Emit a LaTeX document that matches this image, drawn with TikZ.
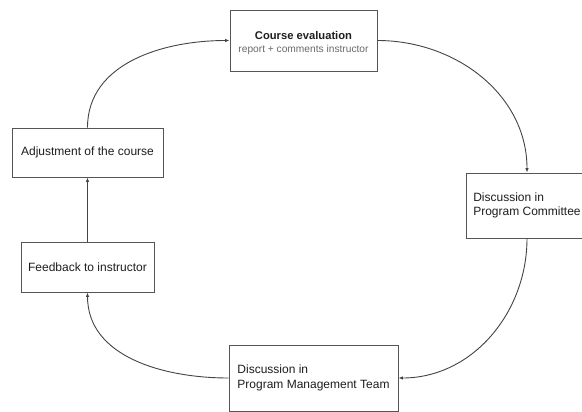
\documentclass[tikz,border=0pt]{standalone}
\usepackage{fontspec}
\setmainfont{Liberation Sans}
\usetikzlibrary{arrows.meta}
\definecolor{boxline}{HTML}{555555}
\definecolor{conn}{HTML}{444444}
\definecolor{txt}{HTML}{1E1E1E}
\definecolor{subtxt}{HTML}{6A6A6A}
\tikzset{
  box/.style={draw=boxline, line width=0.9pt, rectangle, inner sep=0pt, text=txt,
    font=\fontsize{12}{14.5}\selectfont, align=left},
  conline/.style={draw=conn, line width=0.9pt, -{Latex[length=4.5pt,width=3.5pt]}}
}
\begin{document}
\begin{tikzpicture}[x=1pt,y=-1pt]
\clip (0,0) rectangle (582,412);
\fill[white] (0,0) rectangle (582,412);
\node[box, minimum width=147pt, minimum height=61pt] (ce) at (303.5,40.5) {};
\node[text=txt, font=\bfseries\fontsize{11.2}{13}\selectfont, anchor=base] at (303.5,40) {Course evaluation};
\node[text=subtxt, font=\fontsize{10.2}{12}\selectfont, anchor=base] at (303.5,52.5) {report + comments instructor};
\node[box, minimum width=122pt, minimum height=65pt] (pc) at (527,205.5) {Discussion in\\Program Committee};
\node[box, minimum width=169pt, minimum height=66pt] (pm) at (313.5,378) {Discussion in\\Program Management Team};
\node[box, minimum width=133pt, minimum height=50pt] (fb) at (87.5,267) {Feedback to instructor};
\node[box, minimum width=151pt, minimum height=49pt] (ad) at (87.5,152.5) {Adjustment of the course};
\draw[conline] (ad.north) to[out=90,in=180,looseness=1] (ce.west);
\draw[conline] (ce.east) to[out=0,in=90,looseness=1] (pc.north);
\draw[conline] (pc.south) to[out=-90,in=0,looseness=1] (pm.east);
\draw[conline] (pm.west) to[out=180,in=-90,looseness=1] (fb.south);
\draw[conline] (fb.north) -- (ad.south);
\end{tikzpicture}
\end{document}
